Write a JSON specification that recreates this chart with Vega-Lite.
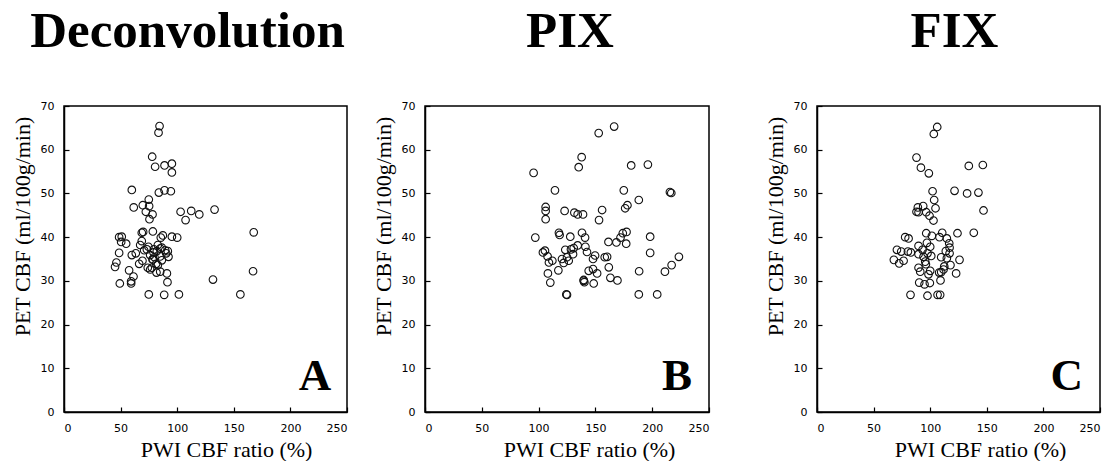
{
  "$schema": "https://vega.github.io/schema/vega-lite/v6.json",
  "padding": {"left": 10, "top": 5, "right": 0, "bottom": 0},
  "background": "white",
  "config": {
    "view": {"stroke": "black", "strokeWidth": 1.5},
    "axis": {
      "grid": false,
      "domainColor": "black",
      "domainWidth": 1.5,
      "tickColor": "black",
      "tickSize": -5,
      "tickWidth": 1.2,
      "labelFont": "DejaVu Sans",
      "labelFontSize": 11,
      "labelColor": "black",
      "titleFont": "Liberation Serif",
      "titleFontSize": 22,
      "titleFontWeight": "normal",
      "titleColor": "black"
    },
    "title": {"font": "Liberation Serif", "fontSize": 51, "fontWeight": "bold", "color": "black", "offset": 42, "anchor": "middle"}
  },
  "datasets": {
    "A": [
      {"x":84.4,"y":65.4},{"x":83.5,"y":63.9},{"x":77.9,"y":58.4},{"x":80.5,"y":56.1},{"x":88.8,"y":56.4},{"x":95.3,"y":56.8},{"x":95.3,"y":54.8},{"x":59.9,"y":50.8},{"x":83.8,"y":50.2},{"x":88.8,"y":50.7},{"x":94.4,"y":50.5},{"x":74.9,"y":48.6},{"x":69.6,"y":47.3},{"x":75.2,"y":47.1},{"x":61.6,"y":46.8},{"x":72.3,"y":45.8},{"x":78.2,"y":45.2},{"x":75.5,"y":44.1},{"x":103,"y":45.8},{"x":112.4,"y":46},{"x":119.5,"y":45.2},{"x":107.4,"y":43.9},{"x":133,"y":46.3},{"x":167.6,"y":41.1},{"x":167,"y":32.2},{"x":131.6,"y":30.3},{"x":155.8,"y":26.9},{"x":101.5,"y":26.9},{"x":88.5,"y":26.8},{"x":74.9,"y":26.9},{"x":49.3,"y":29.4},{"x":59.3,"y":29.9},{"x":59.3,"y":29.4},{"x":61.4,"y":31},{"x":57.5,"y":32.4},{"x":45.1,"y":33.2},{"x":46.3,"y":34.2},{"x":48.7,"y":36.4},{"x":48.7,"y":40},{"x":51,"y":40.1},{"x":50.5,"y":38.9},{"x":54.9,"y":38.5},{"x":59.9,"y":35.9},{"x":63.4,"y":36.3},{"x":66.4,"y":33.9},{"x":67.3,"y":38.2},{"x":68.7,"y":39.1},{"x":68.7,"y":41},{"x":69.9,"y":41.2},{"x":69.3,"y":34.6},{"x":70.8,"y":37},{"x":73.2,"y":37.2},{"x":74.6,"y":37.8},{"x":76.1,"y":35.9},{"x":78.2,"y":34.9},{"x":79.1,"y":36.5},{"x":78.5,"y":41.3},{"x":79.9,"y":35.4},{"x":79.4,"y":37.2},{"x":82,"y":36.8},{"x":82.9,"y":38.2},{"x":85,"y":37.4},{"x":86.4,"y":37.6},{"x":87.3,"y":40.4},{"x":85.5,"y":39.9},{"x":89.4,"y":37},{"x":91.7,"y":36.8},{"x":92.3,"y":35.5},{"x":86.4,"y":34.7},{"x":81.4,"y":33.9},{"x":82.9,"y":33.6},{"x":76.1,"y":32.6},{"x":77.6,"y":33},{"x":81.7,"y":31.9},{"x":85,"y":32.1},{"x":90.9,"y":31.7},{"x":91.4,"y":29.7},{"x":95.3,"y":40.1},{"x":100,"y":39.9},{"x":78.5,"y":34.9},{"x":85,"y":35.6},{"x":90.3,"y":36.3},{"x":74,"y":33}
    ],
    "B": [
      {"x":166.5,"y":65.3},{"x":152.9,"y":63.8},{"x":137.9,"y":58.3},{"x":135.3,"y":56},{"x":181.5,"y":56.4},{"x":196.2,"y":56.6},{"x":95.6,"y":54.7},{"x":114.4,"y":50.7},{"x":175,"y":50.7},{"x":215.6,"y":50.3},{"x":216.8,"y":50.1},{"x":188.2,"y":48.5},{"x":106.2,"y":46.9},{"x":106.2,"y":46},{"x":106.2,"y":44.1},{"x":122.9,"y":46},{"x":131.5,"y":45.6},{"x":134.4,"y":45.2},{"x":139.1,"y":45.2},{"x":155.9,"y":46.2},{"x":153.2,"y":43.9},{"x":178.2,"y":47.3},{"x":176.2,"y":46.6},{"x":97.1,"y":39.9},{"x":117.9,"y":41},{"x":118.5,"y":40.5},{"x":127.9,"y":40.1},{"x":138.2,"y":41},{"x":140.9,"y":39.9},{"x":161.5,"y":38.9},{"x":168.5,"y":38.8},{"x":172.1,"y":39.9},{"x":174.1,"y":40.9},{"x":177.4,"y":41.2},{"x":177.1,"y":38.5},{"x":198.2,"y":40.1},{"x":198.2,"y":36.4},{"x":223.5,"y":35.5},{"x":217.1,"y":33.6},{"x":211.2,"y":32.1},{"x":188.5,"y":32.2},{"x":188.2,"y":26.9},{"x":204.4,"y":26.9},{"x":125,"y":26.8},{"x":124.4,"y":26.9},{"x":110.3,"y":29.6},{"x":108.2,"y":31.7},{"x":117.4,"y":32.4},{"x":109.1,"y":34.2},{"x":105.6,"y":36.9},{"x":103.8,"y":36.5},{"x":107.9,"y":35.6},{"x":112.1,"y":34.6},{"x":120.6,"y":35},{"x":123.5,"y":37.1},{"x":125,"y":35.4},{"x":122.1,"y":34.1},{"x":126.5,"y":34.6},{"x":130.3,"y":36.1},{"x":130.9,"y":37.5},{"x":134.4,"y":38.1},{"x":128.5,"y":37.2},{"x":141.2,"y":37.8},{"x":142.6,"y":36.6},{"x":139.7,"y":30.2},{"x":140.3,"y":29.7},{"x":139.7,"y":30},{"x":144.1,"y":32.3},{"x":148.5,"y":29.4},{"x":151.5,"y":31.7},{"x":147.9,"y":32.7},{"x":147.9,"y":35},{"x":149.7,"y":35.8},{"x":160.3,"y":35.5},{"x":158.2,"y":35.4},{"x":161.8,"y":33.1},{"x":163.2,"y":30.7},{"x":169.4,"y":30.1}
    ],
    "C": [
      {"x":106.2,"y":65.2},{"x":103.2,"y":63.6},{"x":87.9,"y":58.2},{"x":91.8,"y":55.9},{"x":98.8,"y":54.6},{"x":134.1,"y":56.3},{"x":146.5,"y":56.5},{"x":102.1,"y":50.5},{"x":121.5,"y":50.6},{"x":132.6,"y":50},{"x":142.6,"y":50.2},{"x":103.5,"y":48.5},{"x":104.7,"y":46.6},{"x":147.1,"y":46.1},{"x":93.8,"y":47.1},{"x":89.1,"y":46.8},{"x":87.9,"y":45.8},{"x":89.7,"y":45.7},{"x":96.5,"y":45.7},{"x":99.4,"y":44.9},{"x":102.9,"y":43.8},{"x":96.5,"y":40.9},{"x":101.5,"y":40.3},{"x":108.2,"y":40},{"x":110.6,"y":41},{"x":114.7,"y":39.7},{"x":124.1,"y":40.9},{"x":138.5,"y":41},{"x":77.9,"y":40},{"x":80.9,"y":39.7},{"x":70.6,"y":37.1},{"x":74.4,"y":36.7},{"x":80.3,"y":36.7},{"x":82.9,"y":36.5},{"x":67.9,"y":34.8},{"x":72.6,"y":34},{"x":76.5,"y":34.6},{"x":89.7,"y":38},{"x":89.7,"y":36.1},{"x":93.2,"y":37.1},{"x":97.1,"y":38.7},{"x":100,"y":37.8},{"x":94.1,"y":35.5},{"x":100.9,"y":35.7},{"x":96.2,"y":33.8},{"x":89.7,"y":33},{"x":91.2,"y":32.1},{"x":100,"y":32.3},{"x":98.5,"y":31.5},{"x":90.3,"y":29.6},{"x":95,"y":29.2},{"x":99.7,"y":29.5},{"x":109.1,"y":30.1},{"x":109.7,"y":32},{"x":111.8,"y":32.6},{"x":107.9,"y":31.9},{"x":122.9,"y":31.7},{"x":117.9,"y":33.6},{"x":114.7,"y":35.2},{"x":109.7,"y":35.4},{"x":113.8,"y":36.8},{"x":117.1,"y":37.6},{"x":116.8,"y":38.6},{"x":117.1,"y":36.3},{"x":125.9,"y":34.8},{"x":82.6,"y":26.8},{"x":97.6,"y":26.6},{"x":106.5,"y":26.8},{"x":108.8,"y":26.8},{"x":112.4,"y":33.3},{"x":95.6,"y":34.4},{"x":97.6,"y":36.3}
    ]
  },
  "hconcat": [
    {
      "spacing": 22,
      "hconcat": [
        {
          "title": {"text": "Deconvolution", "dx": -18},
          "width": 283, "height": 306,
          "layer": [
            {
              "data": {"name": "A"},
              "mark": {"type": "point", "shape": "circle", "filled": false, "stroke": "#111", "strokeWidth": 1.1, "size": 58, "opacity": 1},
              "encoding": {
                "x": {"field": "x", "type": "quantitative", "scale": {"domain": [0, 250], "nice": false}, "axis": {"values": [0,50,100,150,200,250], "title": "PWI CBF ratio (%)", "labelPadding": 15, "titleX": 162, "titleY": 37, "titleBaseline": "middle"}},
                "y": {"field": "y", "type": "quantitative", "scale": {"domain": [0, 70], "nice": false}, "axis": {"values": [0,10,20,30,40,50,60,70], "title": "PET CBF (ml/100g/min)", "labelPadding": 15, "titleX": -42, "titleY": 120, "titleBaseline": "middle"}}
              }
            },
            {
              "data": {"values": [{"label": "A"}]},
              "mark": {"type": "text", "font": "Liberation Serif", "fontWeight": "bold", "fontSize": 45, "align": "right", "baseline": "alphabetic", "color": "black"},
              "encoding": {"x": {"datum": 236, "type": "quantitative"}, "y": {"datum": 5, "type": "quantitative"}, "text": {"field": "label"}}
            }
          ]
        },
        {
          "title": {"text": "PIX", "dx": 3},
          "width": 284, "height": 306,
          "layer": [
            {
              "data": {"name": "B"},
              "mark": {"type": "point", "shape": "circle", "filled": false, "stroke": "#111", "strokeWidth": 1.1, "size": 58, "opacity": 1},
              "encoding": {
                "x": {"field": "x", "type": "quantitative", "scale": {"domain": [0, 250], "nice": false}, "axis": {"values": [0,50,100,150,200,250], "title": "PWI CBF ratio (%)", "labelPadding": 15, "titleX": 164, "titleY": 37, "titleBaseline": "middle"}},
                "y": {"field": "y", "type": "quantitative", "scale": {"domain": [0, 70], "nice": false}, "axis": {"values": [0,10,20,30,40,50,60,70], "title": "PET CBF (ml/100g/min)", "labelPadding": 15, "titleX": -42, "titleY": 120, "titleBaseline": "middle"}}
              }
            },
            {
              "data": {"values": [{"label": "B"}]},
              "mark": {"type": "text", "font": "Liberation Serif", "fontWeight": "bold", "fontSize": 45, "align": "right", "baseline": "alphabetic", "color": "black"},
              "encoding": {"x": {"datum": 235, "type": "quantitative"}, "y": {"datum": 5, "type": "quantitative"}, "text": {"field": "label"}}
            }
          ]
        }
      ]
    },
    {
      "title": {"text": "FIX", "dx": -4},
      "width": 283, "height": 306,
      "layer": [
        {
          "data": {"name": "C"},
          "mark": {"type": "point", "shape": "circle", "filled": false, "stroke": "#111", "strokeWidth": 1.1, "size": 58, "opacity": 1},
          "encoding": {
            "x": {"field": "x", "type": "quantitative", "scale": {"domain": [0, 250], "nice": false}, "axis": {"values": [0,50,100,150,200,250], "title": "PWI CBF ratio (%)", "labelPadding": 15, "titleX": 163, "titleY": 37, "titleBaseline": "middle"}},
            "y": {"field": "y", "type": "quantitative", "scale": {"domain": [0, 70], "nice": false}, "axis": {"values": [0,10,20,30,40,50,60,70], "title": "PET CBF (ml/100g/min)", "labelPadding": 15, "titleX": -42, "titleY": 120, "titleBaseline": "middle"}}
          }
        },
        {
          "data": {"values": [{"label": "C"}]},
          "mark": {"type": "text", "font": "Liberation Serif", "fontWeight": "bold", "fontSize": 45, "align": "right", "baseline": "alphabetic", "color": "black"},
          "encoding": {"x": {"datum": 235, "type": "quantitative"}, "y": {"datum": 5, "type": "quantitative"}, "text": {"field": "label"}}
        }
      ]
    }
  ],
  "spacing": 52
}
